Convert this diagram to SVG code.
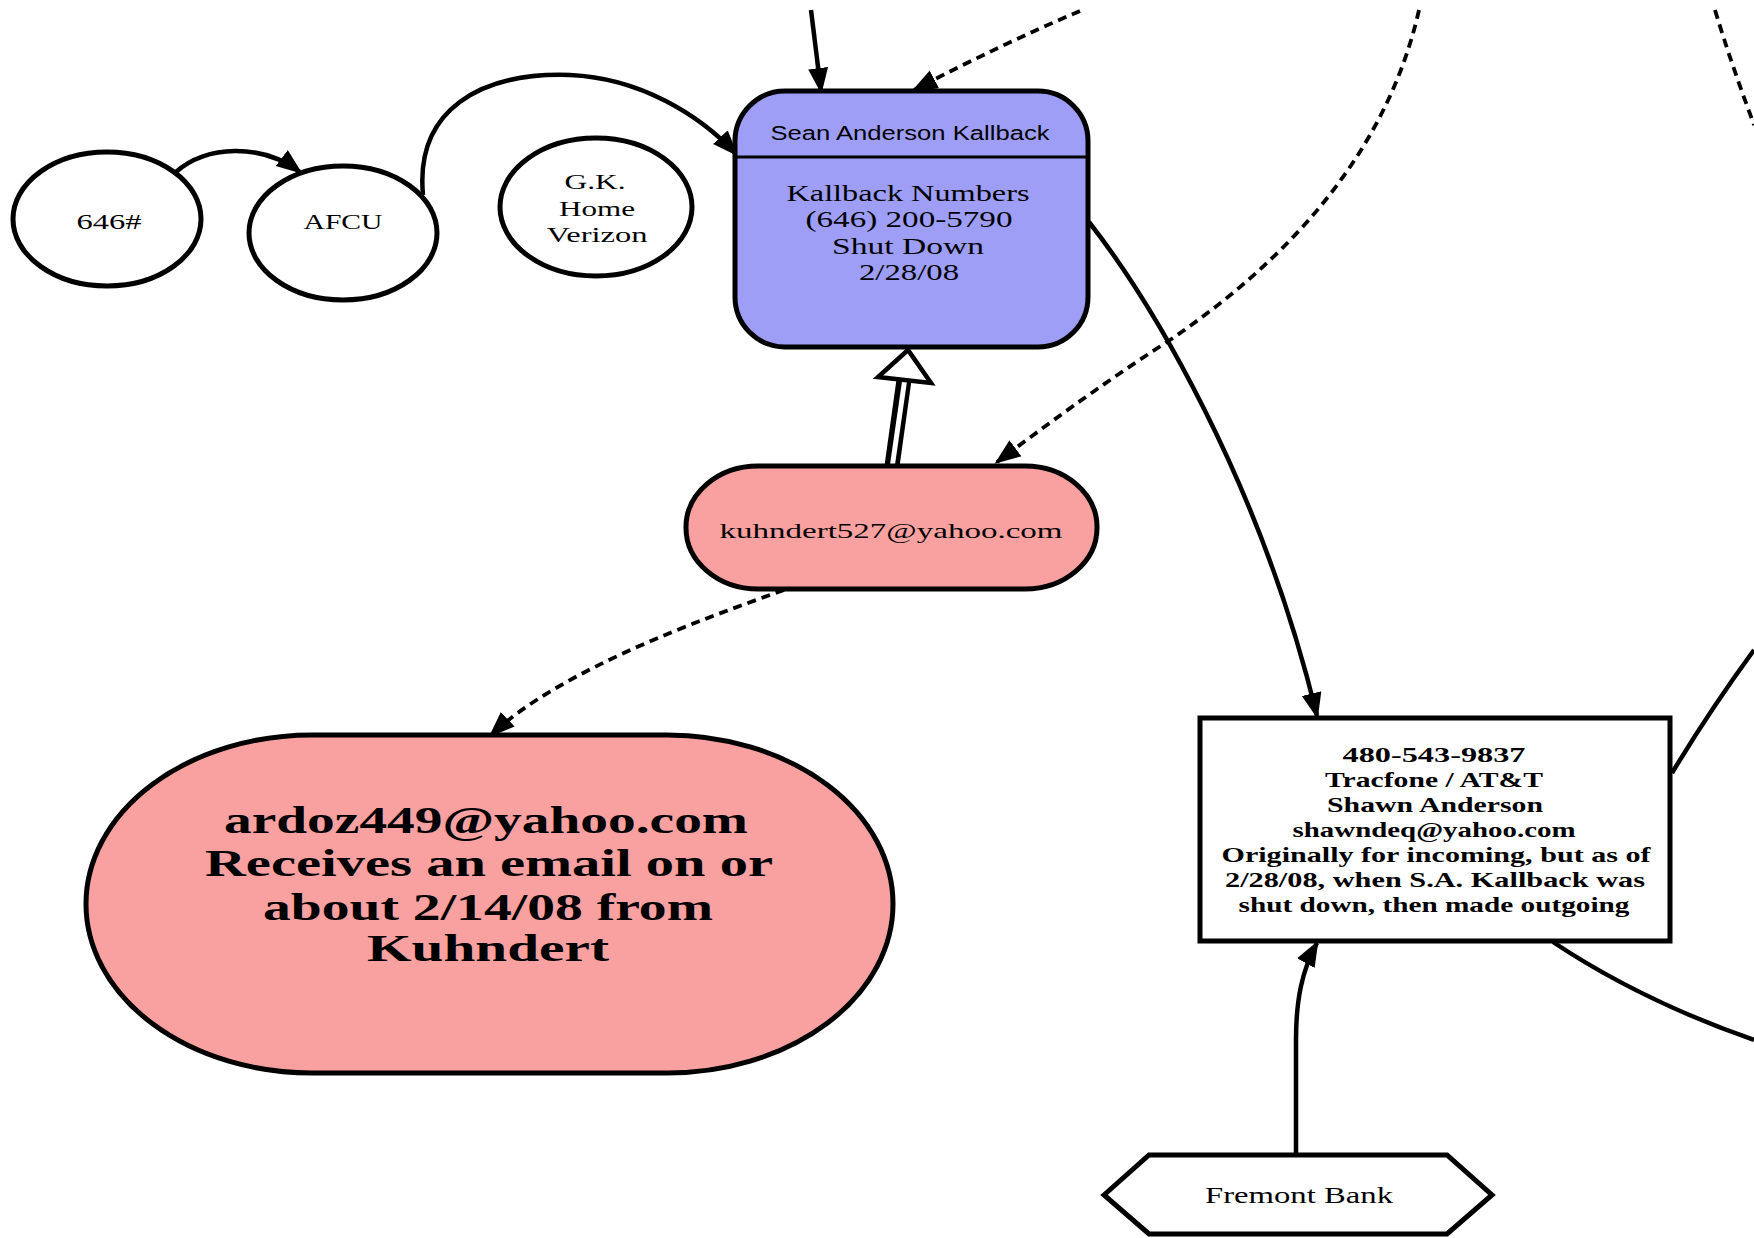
<svg xmlns="http://www.w3.org/2000/svg" width="1754" height="1238" viewBox="0 0 1754 1238">
<style>
.bg{fill:#ffffff}
.node{stroke:#000;stroke-width:5}
.wh{fill:#ffffff}
.blue{fill:#9e9ef7}
.pink{fill:#f9a1a1}
.e{fill:none;stroke:#000;stroke-width:4.5}
.d{fill:none;stroke:#000;stroke-width:3.8;stroke-dasharray:9 6}
.serif{font-family:"Liberation Serif","Times New Roman",serif;fill:#000}
.sans{font-family:"Liberation Sans",Arial,sans-serif;fill:#000}
.b{font-weight:bold}
text{text-anchor:middle;dominant-baseline:central}
</style>
<defs>
<marker id="arr" markerUnits="userSpaceOnUse" markerWidth="28" markerHeight="22" refX="23" refY="10" orient="auto">
<path d="M0,0 L26,10 L0,20 Z" fill="#000"/>
</marker>
</defs>
<rect class="bg" x="0" y="0" width="1754" height="1238"/>

<g id="connectors">
<path class="e" d="M176,172 C205,145 262,143 300,172" marker-end="url(#arr)"/>
<path class="e" d="M423,195 C415,110 480,72 570,75 C640,78 700,115 736,154" marker-end="url(#arr)"/>
<path class="e" d="M811,10 L821,91" marker-end="url(#arr)"/>
<path class="d" d="M1080,11 Q1000,45 914,90" marker-end="url(#arr)"/>
<path class="d" d="M1419,10 C1385,160 1280,265 1170,340 C1100,385 1040,430 997,462" marker-end="url(#arr)"/>
<path class="d" d="M1715,10 C1730,60 1745,100 1754,125"/>
<path class="e" d="M1089,222 C1150,300 1260,480 1317,716" marker-end="url(#arr)"/>
<path class="e" d="M1672,773 Q1710,710 1754,650"/>
<path class="e" d="M1553,942 Q1640,1000 1754,1040"/>
<path class="e" d="M1296,1154 L1296,1040 C1296,1000 1302,970 1317,943" marker-end="url(#arr)"/>
<path class="d" d="M784,590 C700,620 560,670 491,735" marker-end="url(#arr)"/>
<g id="double-edge">
<path d="M892,466 L904,380" fill="none" stroke="#000" stroke-width="15"/>
<path d="M892,468 L905,378" fill="none" stroke="#fff" stroke-width="5"/>
<polygon points="908,350 878,377 931,383" fill="#fff" stroke="#000" stroke-width="4.5" stroke-linejoin="miter"/>
</g>
</g>

<g id="n646">
<ellipse class="node wh" cx="107" cy="219" rx="94" ry="67"/>
<text class="serif" x="109" y="222" font-size="21" textLength="65" lengthAdjust="spacingAndGlyphs">646#</text>
</g>
<g id="nAFCU">
<ellipse class="node wh" cx="343" cy="233" rx="94" ry="67"/>
<text class="serif" x="343" y="222" font-size="21" textLength="79" lengthAdjust="spacingAndGlyphs">AFCU</text>
</g>
<g id="nGK">
<ellipse class="node wh" cx="596" cy="207" rx="96" ry="69"/>
<text class="serif" x="595" y="182" font-size="21" textLength="61" lengthAdjust="spacingAndGlyphs">G.K.</text>
<text class="serif" x="597" y="209" font-size="21" textLength="76" lengthAdjust="spacingAndGlyphs">Home</text>
<text class="serif" x="597" y="235" font-size="21" textLength="101" lengthAdjust="spacingAndGlyphs">Verizon</text>
</g>
<g id="nKallback">
<rect class="node blue" x="735" y="91" width="353" height="256" rx="50" ry="50"/>
<line x1="735" y1="157" x2="1088" y2="157" stroke="#000" stroke-width="3"/>
<text class="sans" x="910" y="133" font-size="20" textLength="279" lengthAdjust="spacingAndGlyphs">Sean Anderson Kallback</text>
<text class="serif" x="908" y="193" font-size="23" textLength="243" lengthAdjust="spacingAndGlyphs">Kallback Numbers</text>
<text class="serif" x="909" y="219" font-size="23" textLength="207" lengthAdjust="spacingAndGlyphs">(646) 200-5790</text>
<text class="serif" x="908" y="246" font-size="23" textLength="152" lengthAdjust="spacingAndGlyphs">Shut Down</text>
<text class="serif" x="909" y="272" font-size="23" textLength="100" lengthAdjust="spacingAndGlyphs">2/28/08</text>
</g>
<g id="nKuhndert">
<rect class="node pink" x="686" y="466" width="411" height="123" rx="72" ry="61"/>
<text class="serif" x="891" y="530" font-size="22" textLength="343" lengthAdjust="spacingAndGlyphs">kuhndert527@yahoo.com</text>
</g>
<g id="nArdoz">
<rect class="node pink" x="86" y="735" width="807" height="338" rx="226" ry="169"/>
<text class="serif b" x="486" y="820" font-size="38" textLength="524" lengthAdjust="spacingAndGlyphs">ardoz449@yahoo.com</text>
<text class="serif b" x="489" y="863" font-size="38" textLength="568" lengthAdjust="spacingAndGlyphs">Receives an email on or</text>
<text class="serif b" x="488" y="907" font-size="38" textLength="450" lengthAdjust="spacingAndGlyphs">about 2/14/08 from</text>
<text class="serif b" x="488" y="948" font-size="38" textLength="242" lengthAdjust="spacingAndGlyphs">Kuhndert</text>
</g>
<g id="n480">
<rect class="node wh" x="1200" y="718" width="470" height="223"/>
<text class="serif b" x="1434" y="755" font-size="21" textLength="183" lengthAdjust="spacingAndGlyphs">480-543-9837</text>
<text class="serif b" x="1434" y="780" font-size="21" textLength="218" lengthAdjust="spacingAndGlyphs">Tracfone / AT&amp;T</text>
<text class="serif b" x="1435" y="805" font-size="21" textLength="216" lengthAdjust="spacingAndGlyphs">Shawn Anderson</text>
<text class="serif b" x="1434" y="830" font-size="21" textLength="283" lengthAdjust="spacingAndGlyphs">shawndeq@yahoo.com</text>
<text class="serif b" x="1436" y="855" font-size="21" textLength="429" lengthAdjust="spacingAndGlyphs">Originally for incoming, but as of</text>
<text class="serif b" x="1435" y="880" font-size="21" textLength="420" lengthAdjust="spacingAndGlyphs">2/28/08, when S.A. Kallback was</text>
<text class="serif b" x="1434" y="905" font-size="21" textLength="391" lengthAdjust="spacingAndGlyphs">shut down, then made outgoing</text>
</g>
<g id="nFremont">
<polygon class="node wh" points="1104,1195 1149,1155 1447,1155 1492,1195 1447,1234 1149,1234"/>
<text class="serif" x="1299" y="1195" font-size="23" textLength="188" lengthAdjust="spacingAndGlyphs">Fremont Bank</text>
</g>
</svg>
